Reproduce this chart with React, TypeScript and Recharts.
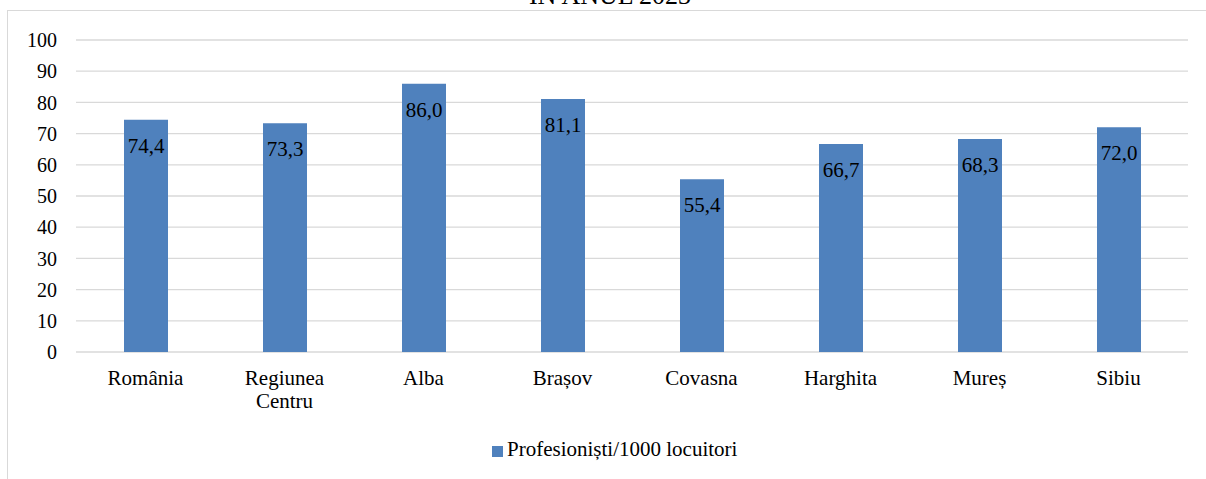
import React from "react";
import { BarChart, Bar, XAxis, YAxis, CartesianGrid, Legend, LabelList } from "recharts";

const categories = ["România", "Regiunea Centru", "Alba", "Brașov", "Covasna", "Harghita", "Mureș", "Sibiu"];
const values = [74.4, 73.3, 86.0, 81.1, 55.4, 66.7, 68.3, 72.0];
const yTicks = [0, 10, 20, 30, 40, 50, 60, 70, 80, 90, 100];
const seriesName = "Profesioniști/1000 locuitori";
const title = "IN ANUL 2023";

const data = categories.map((name, i) => ({ name, value: values[i] }));

const FONT = "Liberation Serif, Times New Roman, serif";
const BLUE = "#4f81bd";
const GRID = "#d9d9d9";

// splits "Regiunea Centru" onto two lines like the original
const CategoryTick: React.FC<any> = ({ x, y, payload }) => {
  const words: string[] = String(payload.value).split(" ");
  return (
    <text x={x} y={y + 25} textAnchor="middle" fill="#000" style={{ fontSize: 21, fontFamily: FONT }}>
      {words.map((w, i) => (
        <tspan key={i} x={x} dy={i === 0 ? 0 : 23}>
          {w}
        </tspan>
      ))}
    </text>
  );
};

const LegendContent: React.FC<any> = () => (
  <div style={{ display: "flex", alignItems: "center", fontFamily: FONT, fontSize: 21, color: "#000", lineHeight: "23px" }}>
    <span style={{ width: 11, height: 11, background: BLUE, display: "inline-block", marginRight: 4, marginTop: 4 }} />
    <span>{seriesName}</span>
  </div>
);

export default function App() {
  return (
    <div
      style={{
        position: "absolute",
        left: 0,
        top: 0,
        width: 1206,
        height: 479,
        overflow: "hidden",
        background: "#fff",
        fontFamily: FONT,
      }}
    >
      <div
        style={{
          position: "absolute",
          left: 7,
          top: 10,
          width: 1220,
          height: 500,
          border: `1px solid ${GRID}`,
          boxSizing: "border-box",
        }}
      />
      <div
        style={{
          position: "absolute",
          left: 0,
          top: -17,
          width: 1220,
          textAlign: "center",
          fontSize: 26,
          lineHeight: "26px",
          color: "#000",
          fontFamily: FONT,
        }}
      >
        {title}
      </div>
      <BarChart
        width={1206}
        height={479}
        data={data}
        margin={{ top: 40, right: 18, left: 8, bottom: 27 }}
        style={{ position: "absolute", left: 0, top: 0, fontFamily: FONT }}
      >
        <CartesianGrid vertical={false} stroke={GRID} strokeWidth={1.3} />
        <XAxis
          dataKey="name"
          height={60}
          axisLine={false}
          tickLine={false}
          interval={0}
          tick={<CategoryTick />}
        />
        <YAxis
          width={68}
          domain={[0, 100]}
          ticks={yTicks}
          axisLine={false}
          tickLine={false}
          tickMargin={13}
          tick={{ fill: "#000", fontSize: 20, style: { fontFamily: FONT } }}
        />
        <Legend
          verticalAlign="bottom"
          content={<LegendContent />}
          wrapperStyle={{ height: 40, left: 492, top: 438, width: "auto", fontFamily: FONT }}
        />
        <Bar dataKey="value" name={seriesName} fill={BLUE} barSize={44} isAnimationActive={false}>
          <LabelList
            dataKey="value"
            position="insideTop"
            offset={18}
            formatter={(v: any) => Number(v).toFixed(1).replace(".", ",")}
            style={{ fill: "#000", fontSize: 21, fontFamily: FONT }}
          />
        </Bar>
      </BarChart>
    </div>
  );
}
